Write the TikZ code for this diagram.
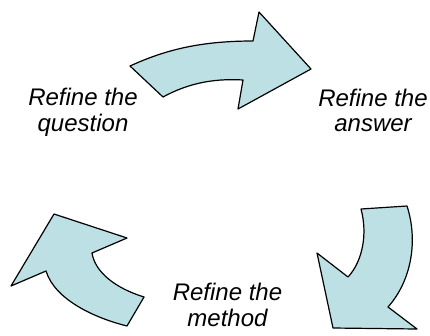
\documentclass[tikz,border=0pt]{standalone}
\usepackage{fontspec}
\setmainfont{Liberation Sans}
\usetikzlibrary{positioning}
\definecolor{arrowfill}{RGB}{188,224,228}
\tikzset{
	cyclearrow/.style={fill=arrowfill, draw=black, line width=1.2pt, line join=round},
	steplabel/.style={align=center, font=\fontsize{24}{25.5}\selectfont\itshape, inner sep=0pt}
}

\begin{document}
\begin{tikzpicture}[x=1pt, y=-1pt]

	\useasboundingbox (0,0) rectangle (430,335);

	% top arrow
	\filldraw[cyclearrow] (130,66) .. controls (165,50) and (200,41) .. (253,41)
		-- (259,12) -- (311,69) -- (238,109) -- (243,80)
		.. controls (210,78) and (185,85) .. (163,97) -- cycle;

	% bottom right arrow
	\filldraw[cyclearrow] (361,209) -- (407,206)
		.. controls (418,240) and (412,280) .. (388,307)
		-- (417,329) -- (333,328) -- (317,253) -- (348,277)
		.. controls (362,262) and (368,235) .. (361,209) -- cycle;

	% bottom left arrow
	\filldraw[cyclearrow] (144,297) -- (127,326)
		.. controls (95,318) and (55,300) .. (46,271)
		-- (11,286) -- (54,214) -- (127,238) -- (92,253)
		.. controls (95,272) and (115,288) .. (144,297) -- cycle;

	% labels
	\node[steplabel] (question) at (83,112.5) {Refine the\\question};
	\node[steplabel] (answer) at (373,110.3) {Refine the\\answer};
	\node[steplabel] (method) at (227.5,305) {Refine the\\method};

\end{tikzpicture}
\end{document}
